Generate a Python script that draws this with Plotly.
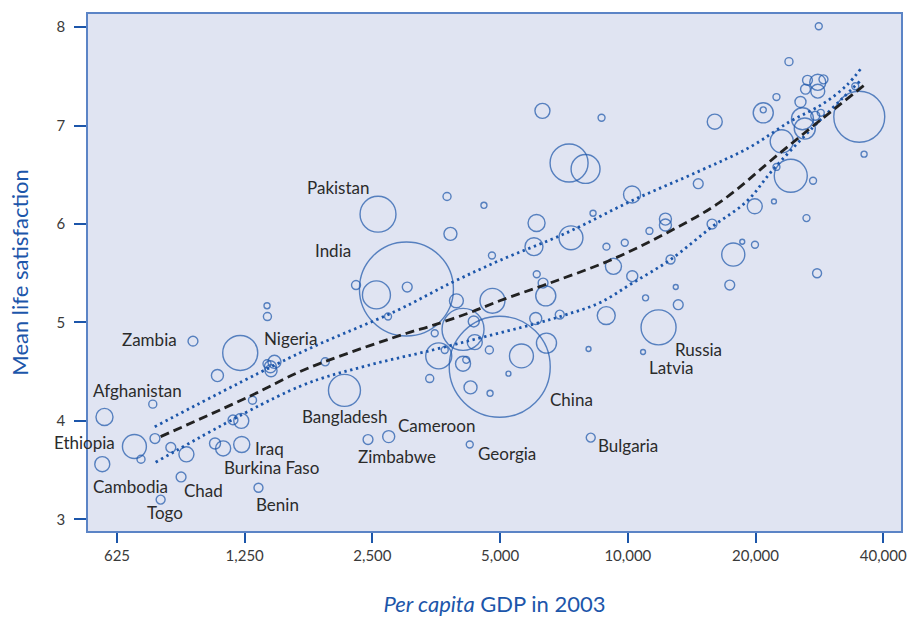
import plotly.graph_objects as go
import math

# ---------------- data ----------------
# per capita GDP 2003 (US$ PPP), mean life satisfaction, population (millions)
country = [
    "Cambodia", "", "Ethiopia", "", "Afghanistan", "", "Togo", "", "Chad", "",
    "Zambia", "", "", "Burkina Faso", "", "", "Nigeria", "Iraq", "", "Benin",
    "", "", "", "", "", "", "", "Bangladesh", "", "Zimbabwe",
    "", "Pakistan", "", "Cameroon", "India", "", "", "", "", "",
    "", "", "", "", "", "", "", "Georgia", "", "",
    "", "", "", "", "", "China", "", "", "", "",
    "", "", "", "", "", "", "", "", "", "",
    "", "Bulgaria", "", "", "", "", "", "", "", "",
    "Latvia", "", "", "Russia", "", "", "", "", "", "",
    "", "", "", "", "", "", "", "", "", "",
    "", "", "", "", "", "", "", "", "", "",
    "", "", "", "", "", "", "", "", "", "",
    "", "",
]
gdp = [
    577, 584, 687, 712, 759, 768, 792, 837, 885, 911,
    944, 1064, 1078, 1112, 1173, 1227, 1220, 1230, 1304, 1347,
    1411, 1414, 1411, 1469, 1437, 1442, 1935, 2148, 2287, 2441,
    2555, 2577, 2721, 2731, 3007, 3020, 3412, 3506, 3583, 3702,
    3748, 3818, 3944, 4088, 4088, 4160, 4258, 4240, 4333, 4357,
    4579, 4716, 4734, 4783, 4796, 4989, 5231, 5613, 6008, 6093,
    6099, 6066, 6291, 6312, 6405, 6430, 6911, 7269, 7344, 7949,
    8079, 8176, 8279, 8670, 8903, 8894, 9248, 9834, 10231, 10242,
    10860, 11009, 11244, 11814, 12263, 12263, 12608, 12969, 13146, 14654,
    15793, 16027, 17387, 17721, 18606, 19936, 19914, 20853, 20853, 22101,
    22402, 22402, 23055, 23977, 24212, 25522, 25801, 26126, 26225, 26367,
    26510, 27325, 27655, 27926, 28033, 28033, 28186, 28493, 28914, 34360,
    35115, 36044,
]
satisfaction = [
    3.56, 4.04, 3.74, 3.61, 4.17, 3.82, 3.20, 3.73, 3.43, 3.66,
    4.81, 3.77, 4.46, 3.72, 4.01, 4.00, 4.69, 3.76, 4.21, 3.32,
    5.17, 5.06, 4.58, 4.60, 4.55, 4.51, 4.60, 4.31, 5.38, 3.81,
    5.28, 6.10, 5.06, 3.84, 5.34, 5.36, 4.43, 4.89, 4.66, 4.72,
    6.28, 5.90, 5.22, 4.93, 4.58, 4.62, 4.34, 3.76, 5.01, 4.80,
    6.19, 4.72, 4.28, 5.68, 5.22, 4.55, 4.48, 4.66, 5.77, 6.01,
    5.49, 5.04, 7.15, 5.40, 5.27, 4.79, 5.08, 6.62, 5.86, 6.56,
    4.73, 3.83, 6.11, 7.08, 5.77, 5.07, 5.57, 5.81, 6.30, 5.47,
    4.70, 5.25, 5.93, 4.95, 6.05, 5.99, 5.64, 5.36, 5.18, 6.41,
    6.00, 7.04, 5.38, 5.69, 5.82, 5.79, 6.18, 7.13, 7.16, 6.23,
    7.29, 6.58, 6.84, 7.65, 6.49, 7.24, 7.07, 6.97, 7.37, 6.06,
    7.46, 6.44, 7.10, 5.50, 7.44, 7.35, 8.01, 7.13, 7.47, 7.40,
    7.09, 6.71,
]
population = [
    28, 36, 71, 8, 8, 12, 10, 12, 12, 28,
    12, 15, 18, 28, 12, 28, 152, 32, 8, 10,
    4.5, 8, 8, 21, 18, 18, 8, 127, 10, 12,
    97, 160, 6, 18, 1095, 12, 8, 6, 84, 6,
    8, 21, 24, 219, 28, 6, 21, 6, 15, 28,
    4.5, 8, 4.5, 6, 77, 1265, 3, 71, 40, 36,
    6, 18, 28, 12, 50, 50, 10, 179, 71, 104,
    3, 10, 4.5, 6, 6, 40, 32, 6, 36, 15,
    3, 4.5, 6, 152, 18, 18, 10, 3, 12, 12,
    12, 28, 12, 66, 3, 6, 28, 50, 4.5, 3,
    6, 6, 66, 8, 135, 15, 60, 55, 12, 6,
    12, 6, 10, 10, 32, 24, 6, 6, 10, 6,
    322, 4.5,
]

# fitted curve (dashed) and confidence band (dotted)
fit_gdp = [792, 1284, 1685, 2071, 3011, 3468, 4239, 4989, 6544, 9063,
           12350, 16460, 22800, 28330, 36560]
fit_ls = [3.84, 4.25, 4.50, 4.65, 4.89, 4.97, 5.10, 5.22, 5.40, 5.63,
          5.91, 6.22, 6.72, 7.05, 7.43]
upper_gdp = [767, 1685, 2852, 3866, 4989, 7165, 10254, 14775, 19380, 24080,
             28800, 32800, 35580]
upper_ls = [3.94, 4.69, 5.12, 5.41, 5.63, 5.91, 6.24, 6.54, 6.78, 7.04,
            7.22, 7.41, 7.59]
lower_gdp = [771, 1685, 2424, 3468, 4549, 5967, 7165, 8584, 10254, 12620,
             15770, 19060, 21960, 27280, 32100, 35200]
lower_ls = [3.58, 4.35, 4.56, 4.72, 4.85, 4.98, 5.08, 5.20, 5.40, 5.64,
            5.97, 6.23, 6.55, 6.98, 7.28, 7.45]

x_ticks = [625, 1250, 2500, 5000, 10000, 20000, 40000]
x_tick_text = ["625", "1,250", "2,500", "5,000", "10,000", "20,000", "40,000"]
y_ticks = [3, 4, 5, 6, 7, 8]

# ---------------- styling ----------------
BLUE = "#1c56aa"
AXIS_BLUE = "#5b84c6"
BG = "#e0e4f2"
TXT = "#2b2b2b"
FONT = "Lato"

fig = go.Figure()

fig.add_trace(go.Scatter(
    x=gdp, y=satisfaction, mode="markers",
    marker=dict(size=population, sizemode="area", sizeref=2 / 2.84 ** 2,
                color="rgba(0,0,0,0)", line=dict(color=BLUE, width=1.4)),
    hovertext=country, showlegend=False, cliponaxis=False,
))
fig.add_trace(go.Scatter(
    x=upper_gdp, y=upper_ls, mode="lines", line_shape="spline",
    line=dict(color=BLUE, width=2.8, dash="2.4px,3.6px"), showlegend=False,
))
fig.add_trace(go.Scatter(
    x=lower_gdp, y=lower_ls, mode="lines", line_shape="spline",
    line=dict(color=BLUE, width=2.8, dash="2.4px,3.6px"), showlegend=False,
))
fig.add_trace(go.Scatter(
    x=fit_gdp, y=fit_ls, mode="lines", line_shape="spline",
    line=dict(color="#222222", width=2.8, dash="9px,5px"), showlegend=False,
))

# country labels, placed relative to their bubbles (pixel offsets)
label_shift = {
    "Pakistan": (-40, 27), "India": (-73, 38), "Zambia": (-43, 2),
    "Nigeria": (50, 14), "Afghanistan": (-15, 14), "Ethiopia": (-50, 4),
    "Cambodia": (28, -22), "Chad": (22, -14), "Togo": (4, -13),
    "Iraq": (28, -4), "Burkina Faso": (48, -19), "Benin": (19, -17),
    "Bangladesh": (0, -26), "Cameroon": (48, 11), "Zimbabwe": (29, -17),
    "Georgia": (37, -9), "China": (72, -33), "Bulgaria": (37, -8),
    "Russia": (40, -22), "Latvia": (28, -16),
}
for name, gx, ly in zip(country, gdp, satisfaction):
    if name:
        dx, dy = label_shift[name]
        fig.add_annotation(x=math.log10(gx), y=ly, text=name, showarrow=False,
                           xshift=dx, yshift=dy, xanchor="center", yanchor="middle",
                           font=dict(family=FONT, size=17, color=TXT))

fig.update_layout(
    width=912, height=618,
    margin=dict(l=88, r=11, t=14, b=87, autoexpand=False),
    paper_bgcolor="white", plot_bgcolor=BG,
    font=dict(family=FONT, color="#3a3a3a", size=15),
)
fig.update_xaxes(
    type="log", range=[math.log10(534), math.log10(44040)],
    tickvals=x_ticks, ticktext=x_tick_text, ticks="outside", ticklen=10,
    tickwidth=1.5, tickcolor=BLUE, showgrid=False, zeroline=False,
    showline=True, linecolor=AXIS_BLUE, linewidth=1.5, mirror=True,
    tickfont=dict(family=FONT, size=15, color="#3a3a3a"),
    title=dict(text="<i>Per capita</i> GDP in 2003", standoff=34,
               font=dict(family=FONT, size=22, color=BLUE)),
)
fig.update_yaxes(
    range=[2.881, 8.134], tickvals=y_ticks, ticks="outside", ticklen=12,
    tickwidth=1.5, tickcolor=BLUE, showgrid=False, zeroline=False,
    showline=True, linecolor=AXIS_BLUE, linewidth=1.5, mirror=True,
    tickfont=dict(family=FONT, size=15, color="#3a3a3a"), ticklabelstandoff=6,
    title=dict(text="Mean life satisfaction", standoff=22,
               font=dict(family=FONT, size=22, color=BLUE)),
)

fig.write_html("out.html", config={"displayModeBar": False},
               post_script="document.body.style.margin='0';document.body.style.padding='0';")
